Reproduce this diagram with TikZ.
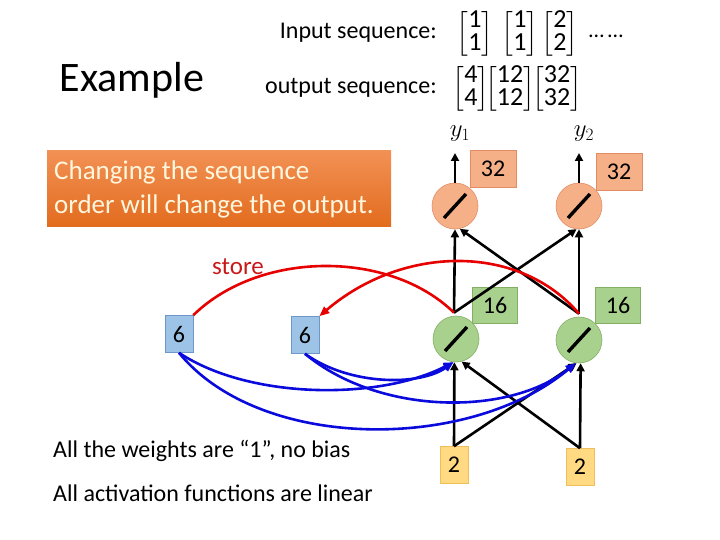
\documentclass[tikz,border=0pt]{standalone}
\usepackage{amsmath}
\usepackage{fontspec}
\setmainfont{Carlito}
\usetikzlibrary{arrows.meta,calc}
\definecolor{orgA}{RGB}{242,145,85}
\definecolor{orgB}{RGB}{226,108,30}
\definecolor{orgTxt}{RGB}{255,246,222}
\definecolor{salFill}{RGB}{246,176,136}
\definecolor{salDraw}{RGB}{226,140,100}
\definecolor{grnFill}{RGB}{169,209,142}
\definecolor{grnDraw}{RGB}{130,175,100}
\definecolor{bluFill}{RGB}{157,195,230}
\definecolor{bluDraw}{RGB}{110,150,200}
\definecolor{yelFill}{RGB}{255,218,130}
\definecolor{yelDraw}{RGB}{240,190,90}
\definecolor{redL}{RGB}{230,0,0}
\definecolor{redT}{RGB}{200,25,25}
\definecolor{bluL}{RGB}{10,10,220}
\newcommand{\vecm}[2]{$\left[\vcenter{\hbox{\renewcommand\arraystretch{0.78}\begin{tabular}{@{}c@{}}#1\\#2\end{tabular}}}\right]$}
\tikzset{
  neuron/.style={circle, minimum size=46pt, inner sep=0pt, line width=0.6pt},
  outn/.style={neuron, fill=salFill, draw=salDraw},
  hidn/.style={neuron, fill=grnFill, draw=grnDraw},
  valbox/.style={rectangle, inner sep=0pt, line width=0.6pt, font=\fontsize{24}{26}\selectfont},
  obox/.style={valbox, fill=salFill, draw=salDraw, minimum width=46pt, minimum height=37pt},
  gbox/.style={valbox, fill=grnFill, draw=grnDraw, minimum width=45pt, minimum height=36pt},
  mbox/.style={valbox, fill=bluFill, draw=bluDraw, minimum width=28pt, minimum height=37pt},
  xbox/.style={valbox, fill=yelFill, draw=yelDraw, minimum width=28pt, minimum height=37pt},
  blk/.style={line width=2.6pt, -{Triangle[length=8pt,width=8pt]}},
  redc/.style={line width=2.6pt, redL},
  bluc/.style={line width=2.6pt, bluL, -{Triangle[length=10pt,width=8pt]}},
  slash/.style={line width=3.4pt},
  plain/.style={inner sep=0pt},
  big/.style={font=\fontsize{24}{26}\selectfont},
  mat/.style={inner sep=0pt, font=\fontsize{26}{28}\selectfont}
}
\begin{document}
\begin{tikzpicture}[x=1pt,y=-1pt]
\useasboundingbox (0,0) rectangle (720,540);
% texts
\node[plain, font=\fontsize{42}{44}\selectfont] (ex) at (132,80) {Example};
\node[plain, anchor=east, big] (inl) at (437,33) {Input sequence:};
\node[plain, anchor=east, big] (outl) at (437,88) {output sequence:};
\node[mat] (i1) at (475,34) {\vecm{1}{1}};
\node[mat] (i2) at (520,34) {\vecm{1}{1}};
\node[mat] (i3) at (560,34) {\vecm{2}{2}};
\node[plain, font=\fontsize{22}{24}\selectfont] (dots) at (606,36) {\dots\,\dots};
\node[mat] (p1) at (471,89) {\vecm{4}{4}};
\node[mat] (p2) at (510,89) {\vecm{12}{12}};
\node[mat] (p3) at (557,89) {\vecm{32}{32}};
% orange note
\node[anchor=north west, minimum width=344pt, minimum height=76pt, inner sep=0pt,
      top color=orgA, bottom color=orgB] (note) at (47,150) {};
\node[plain, anchor=west, align=left, text=orgTxt, font=\fontsize{27}{34}\selectfont] (notet) at (54,189)
  {Changing the sequence\\order will change the output.};
% neurons
\node[outn] (o1) at (455,206) {};
\node[outn] (o2) at (579,206) {};
\node[hidn] (h1) at (456,339) {};
\node[hidn] (h2) at (579,340) {};
\foreach \n in {o1,o2,h1,h2}{
  \draw[slash] ($(\n)+(-11,12)$) -- ($(\n)+(11,-12)$);
}
% value boxes
\node[obox] (v1) at (493,169) {32};
\node[obox] (v2) at (619,172) {32};
\node[gbox] (g1) at (495,305) {16};
\node[gbox] (g2) at (618,305) {16};
\node[mbox] (m1) at (179,334) {6};
\node[mbox] (m2) at (305,335) {6};
\node[xbox] (x1) at (454,465) {2};
\node[xbox] (x2) at (580,467) {2};
% outputs
\coordinate (y1a) at (455,153);
\coordinate (y2a) at (579,153);
\node[plain, font=\fontsize{25}{27}\selectfont] (y1) at (460,134) {$y_1$};
\node[plain, font=\fontsize{25}{27}\selectfont] (y2) at (584,134) {$y_2$};
\draw[blk] (o1.north) -- (y1a);
\draw[blk] (o2.north) -- (y2a);
% hidden -> output
\draw[blk] (h1.north) ++(-2,-3) coordinate (h1t) -- (o1.south);
\draw[blk] (h2.north) ++(0,-3) coordinate (h2t) -- (o2.south);
\draw[blk] (h1t) -- (o2.-96);
\draw[blk] (h2t) -- (o1.-78);
% input -> hidden
\draw[blk] (x1.north) -- (h1.-94);
\draw[blk] (x2.north) -- (h2.-86);
\draw[blk] (x1.north) -- (h2.-96);
\draw[blk] (x2.north) -- (h1.-76);
% store (red)
\draw[redc] (h1t) .. controls (390,250) and (260,250) .. (m1.north east);
\draw[redc, -{Triangle[length=10pt,width=8pt]}] (h2t) .. controls (520,244) and (404,244) .. (m2.north east);
\node[plain, text=redT, font=\fontsize{25}{27}\selectfont] (store) at (238,267) {store};
% memory -> hidden (blue)
\draw[bluc] (m1.south) .. controls (250,400) and (380,400) .. (h1.-96);
\draw[bluc] (m1.south) .. controls (260,452) and (470,452) .. (h2.-98);
\draw[bluc] (m2.south) .. controls (350,386) and (420,386) .. (h1.-96);
\draw[bluc] (m2.south) .. controls (380,416) and (510,416) .. (h2.-98);
% notes
\node[plain, anchor=west, big] (n1) at (53,451) {All the weights are “1”, no bias};
\node[plain, anchor=west, big] (n2) at (53,493) {All activation functions are linear};
\end{tikzpicture}
\end{document}
